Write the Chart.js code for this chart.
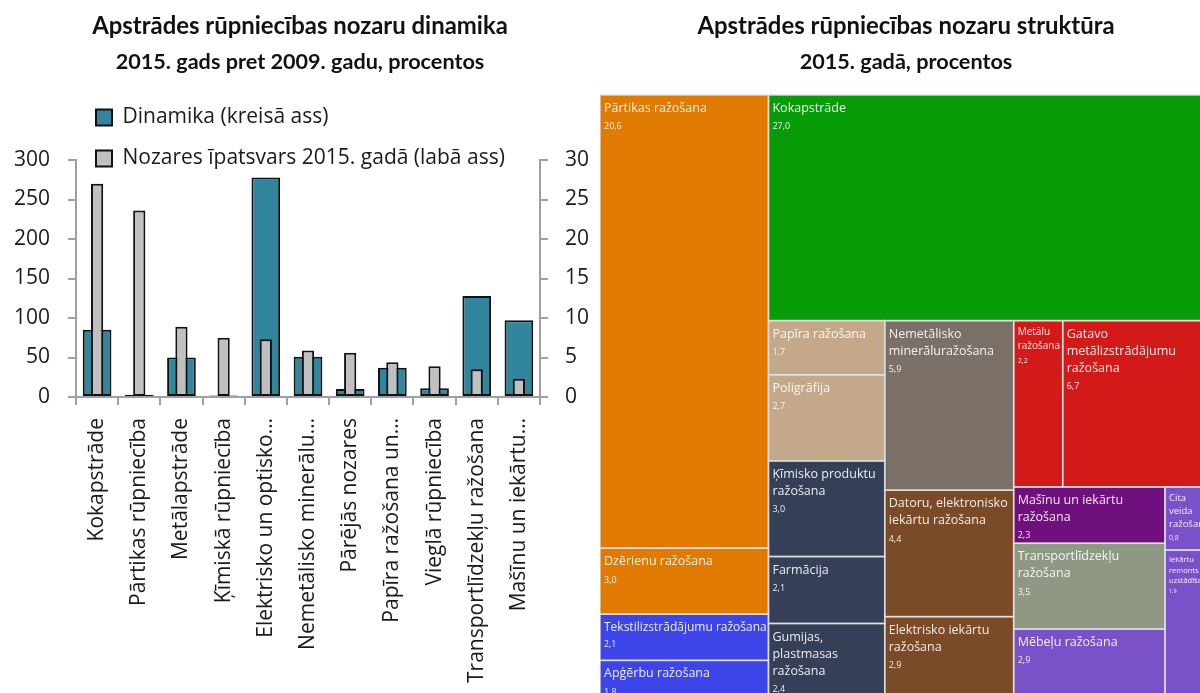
<!DOCTYPE html>
<html><head><meta charset="utf-8">
<script src="https://cdn.jsdelivr.net/npm/chart.js@4"></script>
<style>
html,body{margin:0;padding:0;width:1200px;height:693px;overflow:hidden;background:#fff;}
#left{position:absolute;left:0;top:0;}
#right{position:absolute;left:600px;top:0;}
</style></head><body>
<canvas id="left" width="600" height="693"></canvas>
<canvas id="right" width="612" height="700"></canvas>
<script>
// ---------- data: left chart ----------
const leftTitle = ['Apstrādes rūpniecības nozaru dinamika', '2015. gads pret 2009. gadu, procentos'];
const categories = ['Kokapstrāde', 'Pārtikas rūpniecība', 'Metālapstrāde', 'Ķīmiskā rūpniecība',
  'Elektrisko un optisko…', 'Nemetālisko minerālu…', 'Pārējās nozares', 'Papīra ražošana un…',
  'Vieglā rūpniecība', 'Transportlīdzekļu ražošana', 'Mašīnu un iekārtu…'];
const seriesNames = ['Dinamika (kreisā ass)', 'Nozares īpatsvars 2015. gadā (labā ass)'];
const dynamics = [85, 3, 50, 2, 278, 51, 10, 37, 11, 128, 97];
const shares = [27.0, 23.6, 8.9, 7.5, 7.3, 5.9, 5.6, 4.4, 3.9, 3.5, 2.3];
const leftAxisMax = 300, leftAxisStep = 50;
const rightAxisMax = 30, rightAxisStep = 5;

// ---------- data: right chart (treemap) ----------
const rightTitle = ['Apstrādes rūpniecības nozaru struktūra', '2015. gadā, procentos'];
const tmLabels = ['Pārtikas ražošana', 'Dzērienu ražošana', 'Tekstilizstrādājumu ražošana', 'Apģērbu ražošana',
  'Kokapstrāde', 'Papīra ražošana', 'Poligrāfija', 'Ķīmisko produktu ražošana', 'Farmācija',
  'Gumijas, plastmasas ražošana', 'Nemetālisko minerāluražošana', 'Datoru, elektronisko iekārtu ražošana',
  'Elektrisko iekārtu ražošana', 'Metālu ražošana', 'Gatavo metālizstrādājumu ražošana',
  'Mašīnu un iekārtu ražošana', 'Transportlīdzekļu ražošana', 'Mēbeļu ražošana', 'Cita veida ražošana',
  'Iekārtu remonts un uzstādīšana'];
const tmValues = [20.6, 3.0, 2.1, 1.8, 27.0, 1.7, 2.7, 3.0, 2.1, 2.4, 5.9, 4.4, 2.9, 2.2, 6.7, 2.3, 3.5, 2.9, 0.8, 1.9];
const tmGroup = [0, 0, 1, 1, 2, 3, 3, 4, 4, 4, 5, 6, 6, 7, 7, 8, 9, 10, 10, 10];
// arrangement of the cells ('h' = side by side, 'v' = stacked), leaves are indexes into tmValues
const tmLayout = ['h', ['v', 0, 1, 2, 3],
  ['v', 4, ['h', ['v', 5, 6, 7, 8, 9], ['v', 10, 11, 12],
    ['v', ['h', 13, 14], ['h', ['v', 15, 16, 17], ['v', 18, 19]]]]]];

// ---------- styles ----------
const groupColors = ['#E07A00', '#3D45E8', '#089C08', '#C4A88A', '#353F57', '#7A7068', '#7B4A26',
  '#D41A18', '#700F7E', '#8E9883', '#7952C9'];
const teal = '#31859C', grey = '#C0C0C0', axisGrey = '#A0A0A0', ink = '#1a1a1a';
const titleFamily = "Lato, 'Open Sans', sans-serif";
const bodyFamily = "'Open Sans', sans-serif";

function fitSize(text, family, weight, target, base) {
  const c = document.createElement('canvas').getContext('2d');
  c.font = weight + ' ' + base + 'px ' + family;
  return base * target / c.measureText(text).width;
}
const s1 = fitSize(leftTitle[0], titleFamily, 'bold', 416, 24);
const s2 = fitSize(leftTitle[1], titleFamily, 'bold', 369, 24);
const t1c = 26, t2c = 62.5;
function titleOpts(lines, bottomTarget) {
  return {
    title: {display: true, text: lines[0], color: '#111',
      font: {family: titleFamily, size: s1, weight: 'bold', lineHeight: 1.2},
      padding: {top: t1c - 0.6 * s1, bottom: 0}},
    subtitle: {display: true, text: lines[1], color: '#111',
      font: {family: titleFamily, size: s2, weight: 'bold', lineHeight: 1.2},
      padding: {top: t2c - 0.6 * s2 - (t1c + 0.6 * s1), bottom: bottomTarget - (t2c + 0.6 * s2)}}
  };
}

// legend rows may reach below the space reserved for it: widen its clip box after layout
const legendReach = {
  id: 'legendReach',
  afterLayout(chart) {
    if (chart.legend) { chart.legend.bottom += 30; chart.legend.height += 30; }
  }
};

// ---------- left chart ----------
const lt = titleOpts(leftTitle, 87);
new Chart(document.getElementById('left'), {
  type: 'bar',
  data: {
    labels: categories,
    datasets: [
      {label: seriesNames[0], data: dynamics, yAxisID: 'y', backgroundColor: teal, borderColor: '#111',
        borderWidth: 2, borderSkipped: false, barPercentage: 0.68, categoryPercentage: 1, grouped: false, order: 1},
      {label: seriesNames[1], data: shares, yAxisID: 'y1', backgroundColor: grey, borderColor: '#111',
        borderWidth: 2, borderSkipped: false, barPercentage: 0.29, categoryPercentage: 1, grouped: false, order: 0}
    ]
  },
  options: {
    responsive: false, animation: false, devicePixelRatio: 1,
    layout: {padding: 0},
    plugins: {
      title: lt.title, subtitle: lt.subtitle,
      legend: {position: 'top', align: 'start', fullSize: false, maxHeight: 73,
        labels: {boxWidth: 16, boxHeight: 16, padding: 20, color: ink,
          font: {family: bodyFamily, size: 21},
          sort: (a, b) => a.datasetIndex - b.datasetIndex}},
      tooltip: {enabled: false}
    },
    scales: {
      x: {
        grid: {display: true, drawOnChartArea: false, offset: true, tickLength: 8, color: axisGrey, lineWidth: 2},
        border: {display: true, color: axisGrey, width: 2},
        ticks: {autoSkip: false, maxRotation: 90, minRotation: 90, padding: 13, color: ink,
          font: {family: bodyFamily, size: 21}},
        afterFit: s => { s.height = 296; }
      },
      y: {
        position: 'left', min: 0, max: leftAxisMax,
        grid: {drawOnChartArea: false, tickLength: 8, color: axisGrey, lineWidth: 2},
        border: {display: true, color: axisGrey, width: 2},
        ticks: {stepSize: leftAxisStep, padding: 18, color: ink, font: {family: bodyFamily, size: 21}},
        afterFit: s => { s.width = 76; }
      },
      y1: {
        position: 'right', min: 0, max: rightAxisMax,
        grid: {drawOnChartArea: false, tickLength: 8, color: axisGrey, lineWidth: 2},
        border: {display: true, color: axisGrey, width: 2},
        ticks: {stepSize: rightAxisStep, padding: 17, color: ink, font: {family: bodyFamily, size: 21}},
        afterFit: s => { s.width = 60; }
      }
    }
  },
  plugins: [legendReach]
});

// ---------- right chart: treemap ----------
function nodeSum(n) {
  return typeof n === 'number' ? tmValues[n] : n.slice(1).reduce((s, k) => s + nodeSum(k), 0);
}
function layoutNode(n, x, y, w, h, out) {
  if (typeof n === 'number') { out.push({i: n, x, y, w, h}); return; }
  const dir = n[0], kids = n.slice(1), tot = nodeSum(n);
  let off = 0;
  kids.forEach(k => {
    const f = nodeSum(k) / tot;
    if (dir === 'h') layoutNode(k, x + off * w, y, f * w, h, out);
    else layoutNode(k, x, y + off * h, w, f * h, out);
    off += f;
  });
}
function wrapWords(ctx, text, maxW) {
  const words = text.split(' ');
  const lines = [];
  let cur = '';
  for (const w of words) {
    if (ctx.measureText(w).width > maxW) return null;
    const t = cur ? cur + ' ' + w : w;
    if (ctx.measureText(t).width <= maxW) cur = t; else { lines.push(cur); cur = w; }
  }
  if (cur) lines.push(cur);
  return lines;
}
const treemapPlugin = {
  id: 'treemapCells',
  afterDatasetsDraw(chart) {
    const ctx = chart.ctx, xs = chart.scales.x, ys = chart.scales.y;
    const cells = [];
    layoutNode(tmLayout, 0, 0, 1, 1, cells);
    ctx.save();
    cells.forEach(c => {
      const x0 = xs.getPixelForValue(c.x), x1 = xs.getPixelForValue(c.x + c.w);
      const y0 = ys.getPixelForValue(c.y), y1 = ys.getPixelForValue(c.y + c.h);
      ctx.fillStyle = groupColors[tmGroup[c.i]];
      ctx.fillRect(x0, y0, x1 - x0, y1 - y0);
    });
    cells.forEach(c => {
      const x0 = xs.getPixelForValue(c.x), x1 = xs.getPixelForValue(c.x + c.w);
      const y0 = ys.getPixelForValue(c.y), y1 = ys.getPixelForValue(c.y + c.h);
      ctx.strokeStyle = 'rgba(225,225,225,0.85)';
      ctx.lineWidth = 1.5;
      ctx.strokeRect(x0, y0, x1 - x0, y1 - y0);
      const w = x1 - x0, h = y1 - y0;
      for (let fs = 12.5; fs >= 5; fs -= 0.5) {
        ctx.font = fs + 'px ' + bodyFamily;
        const lines = wrapWords(ctx, tmLabels[c.i], w - 5);
        if (!lines) continue;
        const lh = fs * 1.36, vfs = fs * 0.72;
        if (5 + lines.length * lh + vfs * 1.6 > h) continue;
        ctx.fillStyle = 'rgba(255,255,255,0.9)';
        ctx.textBaseline = 'middle';
        ctx.textAlign = 'left';
        let cy = y0 + 5 + lh / 2;
        lines.forEach(l => { ctx.fillText(l, x0 + 4, cy); cy += lh; });
        ctx.font = vfs + 'px ' + bodyFamily;
        ctx.fillText(tmValues[c.i].toFixed(1).replace('.', ','), x0 + 4, cy - lh + lh / 2 + vfs * 1.1);
        break;
      }
    });
    ctx.restore();
  }
};
const rt = titleOpts(rightTitle, 95);
new Chart(document.getElementById('right'), {
  type: 'scatter',
  data: {datasets: [{data: []}]},
  options: {
    responsive: false, animation: false, devicePixelRatio: 1,
    layout: {padding: 0},
    plugins: {title: rt.title, subtitle: rt.subtitle, legend: {display: false}, tooltip: {enabled: false}},
    scales: {
      x: {type: 'linear', min: 0, max: 1, display: false},
      y: {type: 'linear', min: 0, max: 1, reverse: true, display: false}
    }
  },
  plugins: [treemapPlugin]
});
</script>
</body></html>
